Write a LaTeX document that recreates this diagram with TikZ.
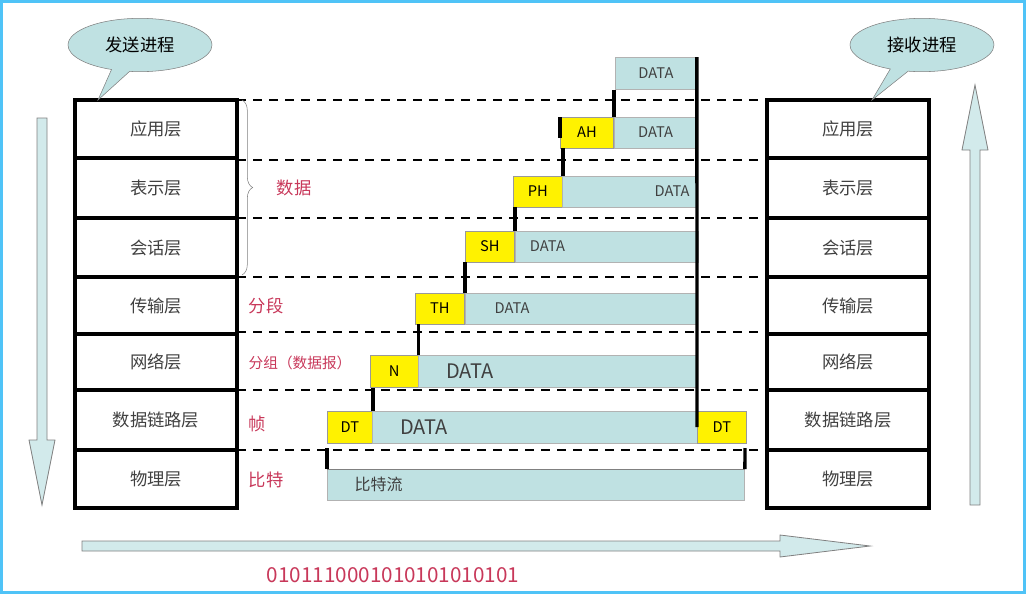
\documentclass[tikz,border=0pt]{standalone}
\usepackage{fontspec}
\setmainfont{Noto Sans CJK SC}
\usetikzlibrary{shapes.callouts,decorations.pathreplacing}
\definecolor{teal1}{HTML}{BFE1E2}
\definecolor{redt}{HTML}{C8385A}
\definecolor{frame}{HTML}{4FC3F7}
\tikzset{
 layer/.style={draw,line width=3pt,minimum width=122pt,minimum height=42pt,font=\fontsize{13}{13}\selectfont,text=black!75},
 dashl/.style={dashed,line width=1.2pt,dash pattern=on 7pt off 5pt},
 hdr/.style={draw=black!40,fill=yellow,font=\fontsize{11}{11}\selectfont},
 dat/.style={draw=black!30,fill=teal1,font=\fontsize{11}{11}\selectfont,text=black!75},
 thk/.style={line width=2.5pt},
 lab/.style={text=redt,font=\fontsize{13}{13}\selectfont,anchor=west},
 arr/.style={draw=black!50,fill=teal1!70,line width=0.6pt}
}
\begin{document}
\begin{tikzpicture}[x=0.75pt,y=-0.75pt]
\useasboundingbox (0,0) rectangle (1026,594);
\draw[frame,line width=2.5pt] (1.5,1.5) rectangle (1024.5,592.5);
% stacks
\foreach \t/\a/\b [count=\i] in {应用层/100/158,表示层/158/218,会话层/218/277,传输层/277/334,网络层/334/390,数据链路层/390/450,物理层/450/508}{
 \node[layer,minimum height={(\b-\a)*0.75pt}] (L\i) at (156,{(\a+\b)/2}) {\t};
 \node[layer,minimum height={(\b-\a)*0.75pt}] (R\i) at (848,{(\a+\b)/2}) {\t};
}
\foreach \y in {100,160,218,277,332,390,450}{\draw[dashl] (237,\y) -- (767,\y);}
% callouts
\node[ellipse callout,draw=black!50,fill=teal1,minimum width=108pt,minimum height=40pt,callout absolute pointer={(98,100)},font=\fontsize{13}{13}\selectfont] (s) at (140,45) {发送进程};
\node[ellipse callout,draw=black!50,fill=teal1,minimum width=108pt,minimum height=40pt,callout absolute pointer={(872,100)},font=\fontsize{13}{13}\selectfont] (r) at (922,45) {接收进程};
% packets
\node[dat,minimum width=61pt,minimum height=24pt,anchor=north west] (d0) at (615,57) {DATA};
\node[hdr,minimum width=40pt,minimum height=23pt,anchor=north west] (ah) at (560,117) {AH};
\node[dat,minimum width=62pt,minimum height=23pt,anchor=north west] (d1) at (614,117) {DATA};
\node[hdr,minimum width=37pt,minimum height=23pt,anchor=north west] (ph) at (513,176) {PH};
\node[dat,minimum width=101pt,minimum height=23pt,anchor=north west,text width=90pt,align=right] (d2) at (562,176) {DATA};
\node[hdr,minimum width=37pt,minimum height=23pt,anchor=north west] (sh) at (465,231) {SH};
\node[dat,minimum width=137pt,minimum height=23pt,anchor=north west,text width=127pt,align=left] (d3) at (515,231) {\hspace*{6pt}DATA};
\node[hdr,minimum width=37pt,minimum height=23pt,anchor=north west] (th) at (415,293) {TH};
\node[dat,minimum width=174pt,minimum height=23pt,anchor=north west,text width=150pt,align=left] (d4) at (465,293) {\hspace*{10pt}DATA};
\node[hdr,minimum width=36pt,minimum height=24pt,anchor=north west] (n) at (370,355) {N};
\node[dat,minimum width=209pt,minimum height=24pt,anchor=north west,text width=195pt,align=left,font=\fontsize{15}{15}\selectfont] (d5) at (418,355) {\hspace*{14pt}DATA};
\node[hdr,minimum width=34pt,minimum height=24pt,anchor=north west] (dt) at (327,411) {DT};
\node[dat,minimum width=244pt,minimum height=24pt,anchor=north west,text width=230pt,align=left,font=\fontsize{15}{15}\selectfont] (d6) at (372,411) {\hspace*{14pt}DATA};
\node[hdr,minimum width=37pt,minimum height=24pt,anchor=north west] (dt2) at (697,411) {DT};
\node[dat,minimum width=313pt,minimum height=23pt,anchor=north west,text width=300pt,align=left,font=\fontsize{12}{12}\selectfont] (bs) at (327,469) {\hspace*{14pt}比特流};
% thick connectors
\draw[thk] (d1.north west) -- (d1.north west |- d0.south);
\draw[thk] (ah.north west) -- ([yshift=-16pt]ah.north west);
\draw[thk] (ph.north east) -- (ph.north east |- ah.south);
\draw[thk] (sh.north east) -- (sh.north east |- ph.south);
\draw[thk] (th.north east) -- (th.north east |- sh.south);
\draw[thk] (n.north east) -- (n.north east |- th.south);
\draw[thk] (dt.north east) -- (dt.north east |- n.south);
\draw[thk] (d0.north east) -- ([yshift=-12pt]dt2.north west);
\coordinate (b1) at (327,448); \coordinate (b2) at (745,448);
\draw[thk] (b1) -- (bs.north west); \draw[thk] (b2) -- (bs.north east);
\draw[black!50] (bs.north west) -- (bs.north east);
% brace & labels
\draw[decorate,decoration={brace,amplitude=8pt},black!50] (242,100) -- (242,275);
\node[lab] (t1) at (272,188) {数据};
\node[lab] (t2) at (244,306) {分段};
\node[lab,font=\fontsize{11}{11}\selectfont] (t3) at (244,363) {分组（数据报）};
\node[lab] (t4) at (244,424) {帧};
\node[lab] (t5) at (244,480) {比特};
% big arrows
\draw[arr] (37,118) -- (47,118) -- (47,440) -- (55,440) -- (42,505) -- (29,440) -- (37,440) -- cycle;
\draw[arr] (970,505) -- (980,505) -- (980,150) -- (988,150) -- (975,85) -- (962,150) -- (970,150) -- cycle;
\draw[arr] (82,541) -- (82,551) -- (780,551) -- (780,557) -- (870,546) -- (780,535) -- (780,541) -- cycle;
\node[text=redt,font=\fontsize{15.5}{15.5}\selectfont] (bits) at (393,575) {0101110001010101010101};
\end{tikzpicture}
\end{document}
